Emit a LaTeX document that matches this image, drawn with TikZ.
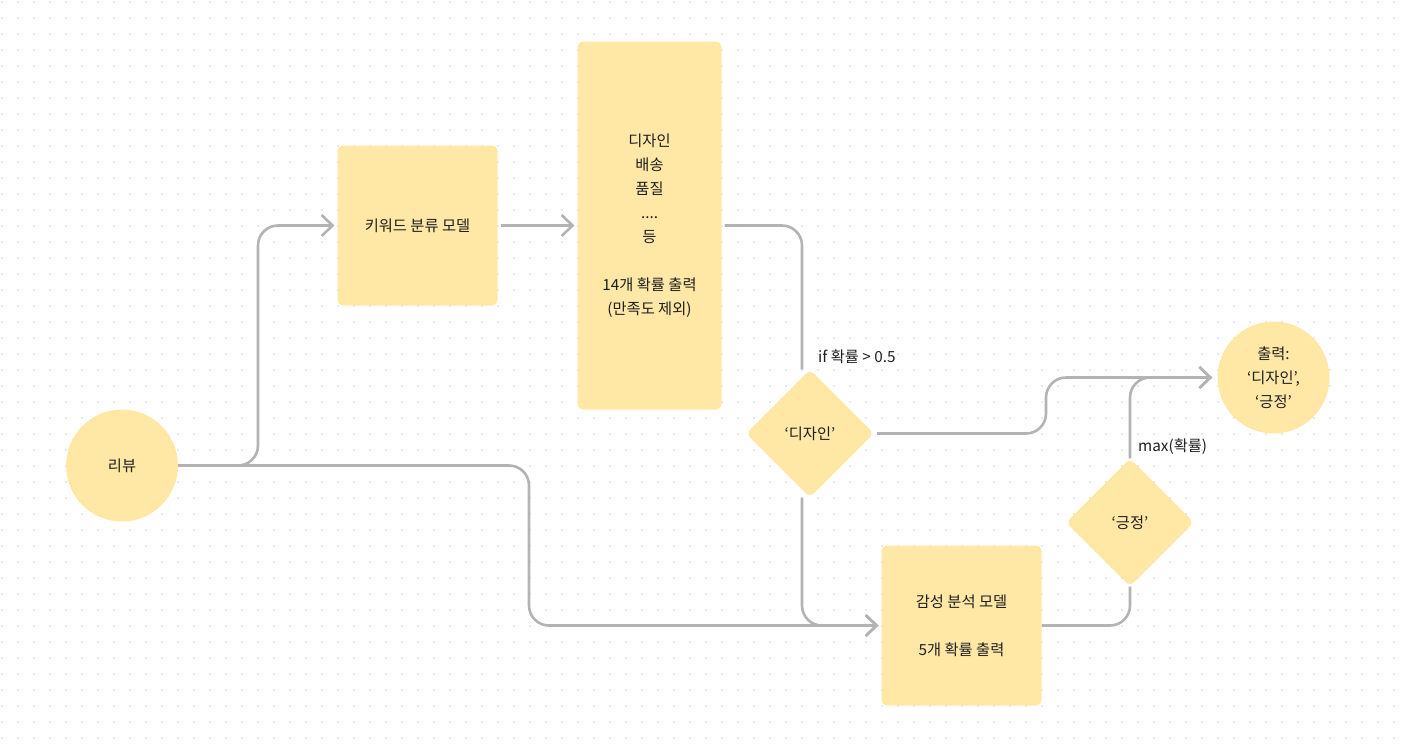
\documentclass[tikz,border=0pt]{standalone}
\usepackage{fontspec}
\setmainfont{Noto Sans CJK KR}
\usetikzlibrary{shapes.geometric,arrows.meta,backgrounds}
\definecolor{fillY}{HTML}{FFE8A6}
\definecolor{lineG}{HTML}{B3B3B3}
\definecolor{txt}{HTML}{1E1E1E}
\definecolor{dotG}{HTML}{E8E8E8}
\begin{document}
\begin{tikzpicture}[x=1pt,y=-1pt,
  every node/.style={text=txt,font=\fontsize{15.3}{24}\selectfont},
  boxnode/.style={draw=fillY,line width=3pt,fill=fillY,rounded corners=4pt,inner sep=0pt,align=center},
  circnode/.style={circle,fill=fillY,inner sep=0pt,minimum size=112pt,align=center},
  dianode/.style={diamond,fill=fillY,inner sep=0pt,minimum width=128pt,minimum height=128pt,rounded corners=6pt,align=center},
  conn/.style={draw=lineG,line width=2.6pt,rounded corners=20pt},
  arr/.style={-{Straight Barb[length=11pt,width=21pt,line width=2.6pt]}},
  lbl/.style={anchor=west,inner sep=0pt}]
\useasboundingbox (0,0) rectangle (1407,750);
% nodes
\node[circnode] (rv) at (122,465.5) {리뷰};
\node[boxnode,minimum width=157pt,minimum height=157pt] (kw) at (417.5,225.5) {키워드 분류 모델};
\node[boxnode,minimum width=141pt,minimum height=365pt] (big) at (649.5,225.5) {디자인\\배송\\품질\\....\\등\\[24pt]14개 확률 출력\\(만족도 제외)};
\node[dianode] (d1) at (810,433.5) {‘디자인’};
\node[boxnode,minimum width=157pt,minimum height=157pt] (sa) at (961.5,625.5) {감성 분석 모델\\[24pt]5개 확률 출력};
\node[dianode] (d2) at (1130,522.5) {‘긍정’};
\node[circnode] (out) at (1273.5,377.5) {출력:\\‘디자인’,\\‘긍정’};
\node[lbl] (l1) at (818,357) {if 확률 > 0.5};
\node[lbl] (l2) at (1138,447) {max(확률)};
\coordinate (j1) at (802,226);
\coordinate (j2) at (258,300);
\coordinate (j3) at (529,500);
\coordinate (j4) at (1046,400);
% background
\begin{pgfonlayer}{background}
\foreach \i in {0,...,87}{\foreach \j in {0,...,46}{
  \fill[dotG] (1.25+16*\i,1.25+16*\j) rectangle ++(1.5,1.5);}}
\draw[conn,arr,shorten >=3pt] (rv.east) -- (j2 |- rv.east) -- (j2 |- kw.west) -- (kw.west);
\draw[conn,arr,shorten >=3pt] (rv.east) -- (j3 |- rv.east) -- (j3 |- sa.west) -- (sa.west);
\draw[conn,arr,shorten >=3pt,shorten <=3pt] (kw.east) -- (big.west);
\draw[conn,shorten <=3pt] (big.east) -- (j1 |- big.east) -- (j1 |- d1.north);
\draw[conn,arr,shorten >=3pt] (j1 |- d1.south) -- (j1 |- sa.west) -- (sa.west);
\draw[conn,arr,shorten >=5pt,shorten <=3pt] (d1.east) -- (j4 |- d1.east) -- (j4 |- out.west) -- (out.west);
\draw[conn] (sa.east) -- (d2.south |- sa.east) -- (d2.south);
\draw[conn,arr,shorten >=5pt] (d2.north) -- (d2.north |- out.west) -- (out.west);
\end{pgfonlayer}
\end{tikzpicture}
\end{document}
